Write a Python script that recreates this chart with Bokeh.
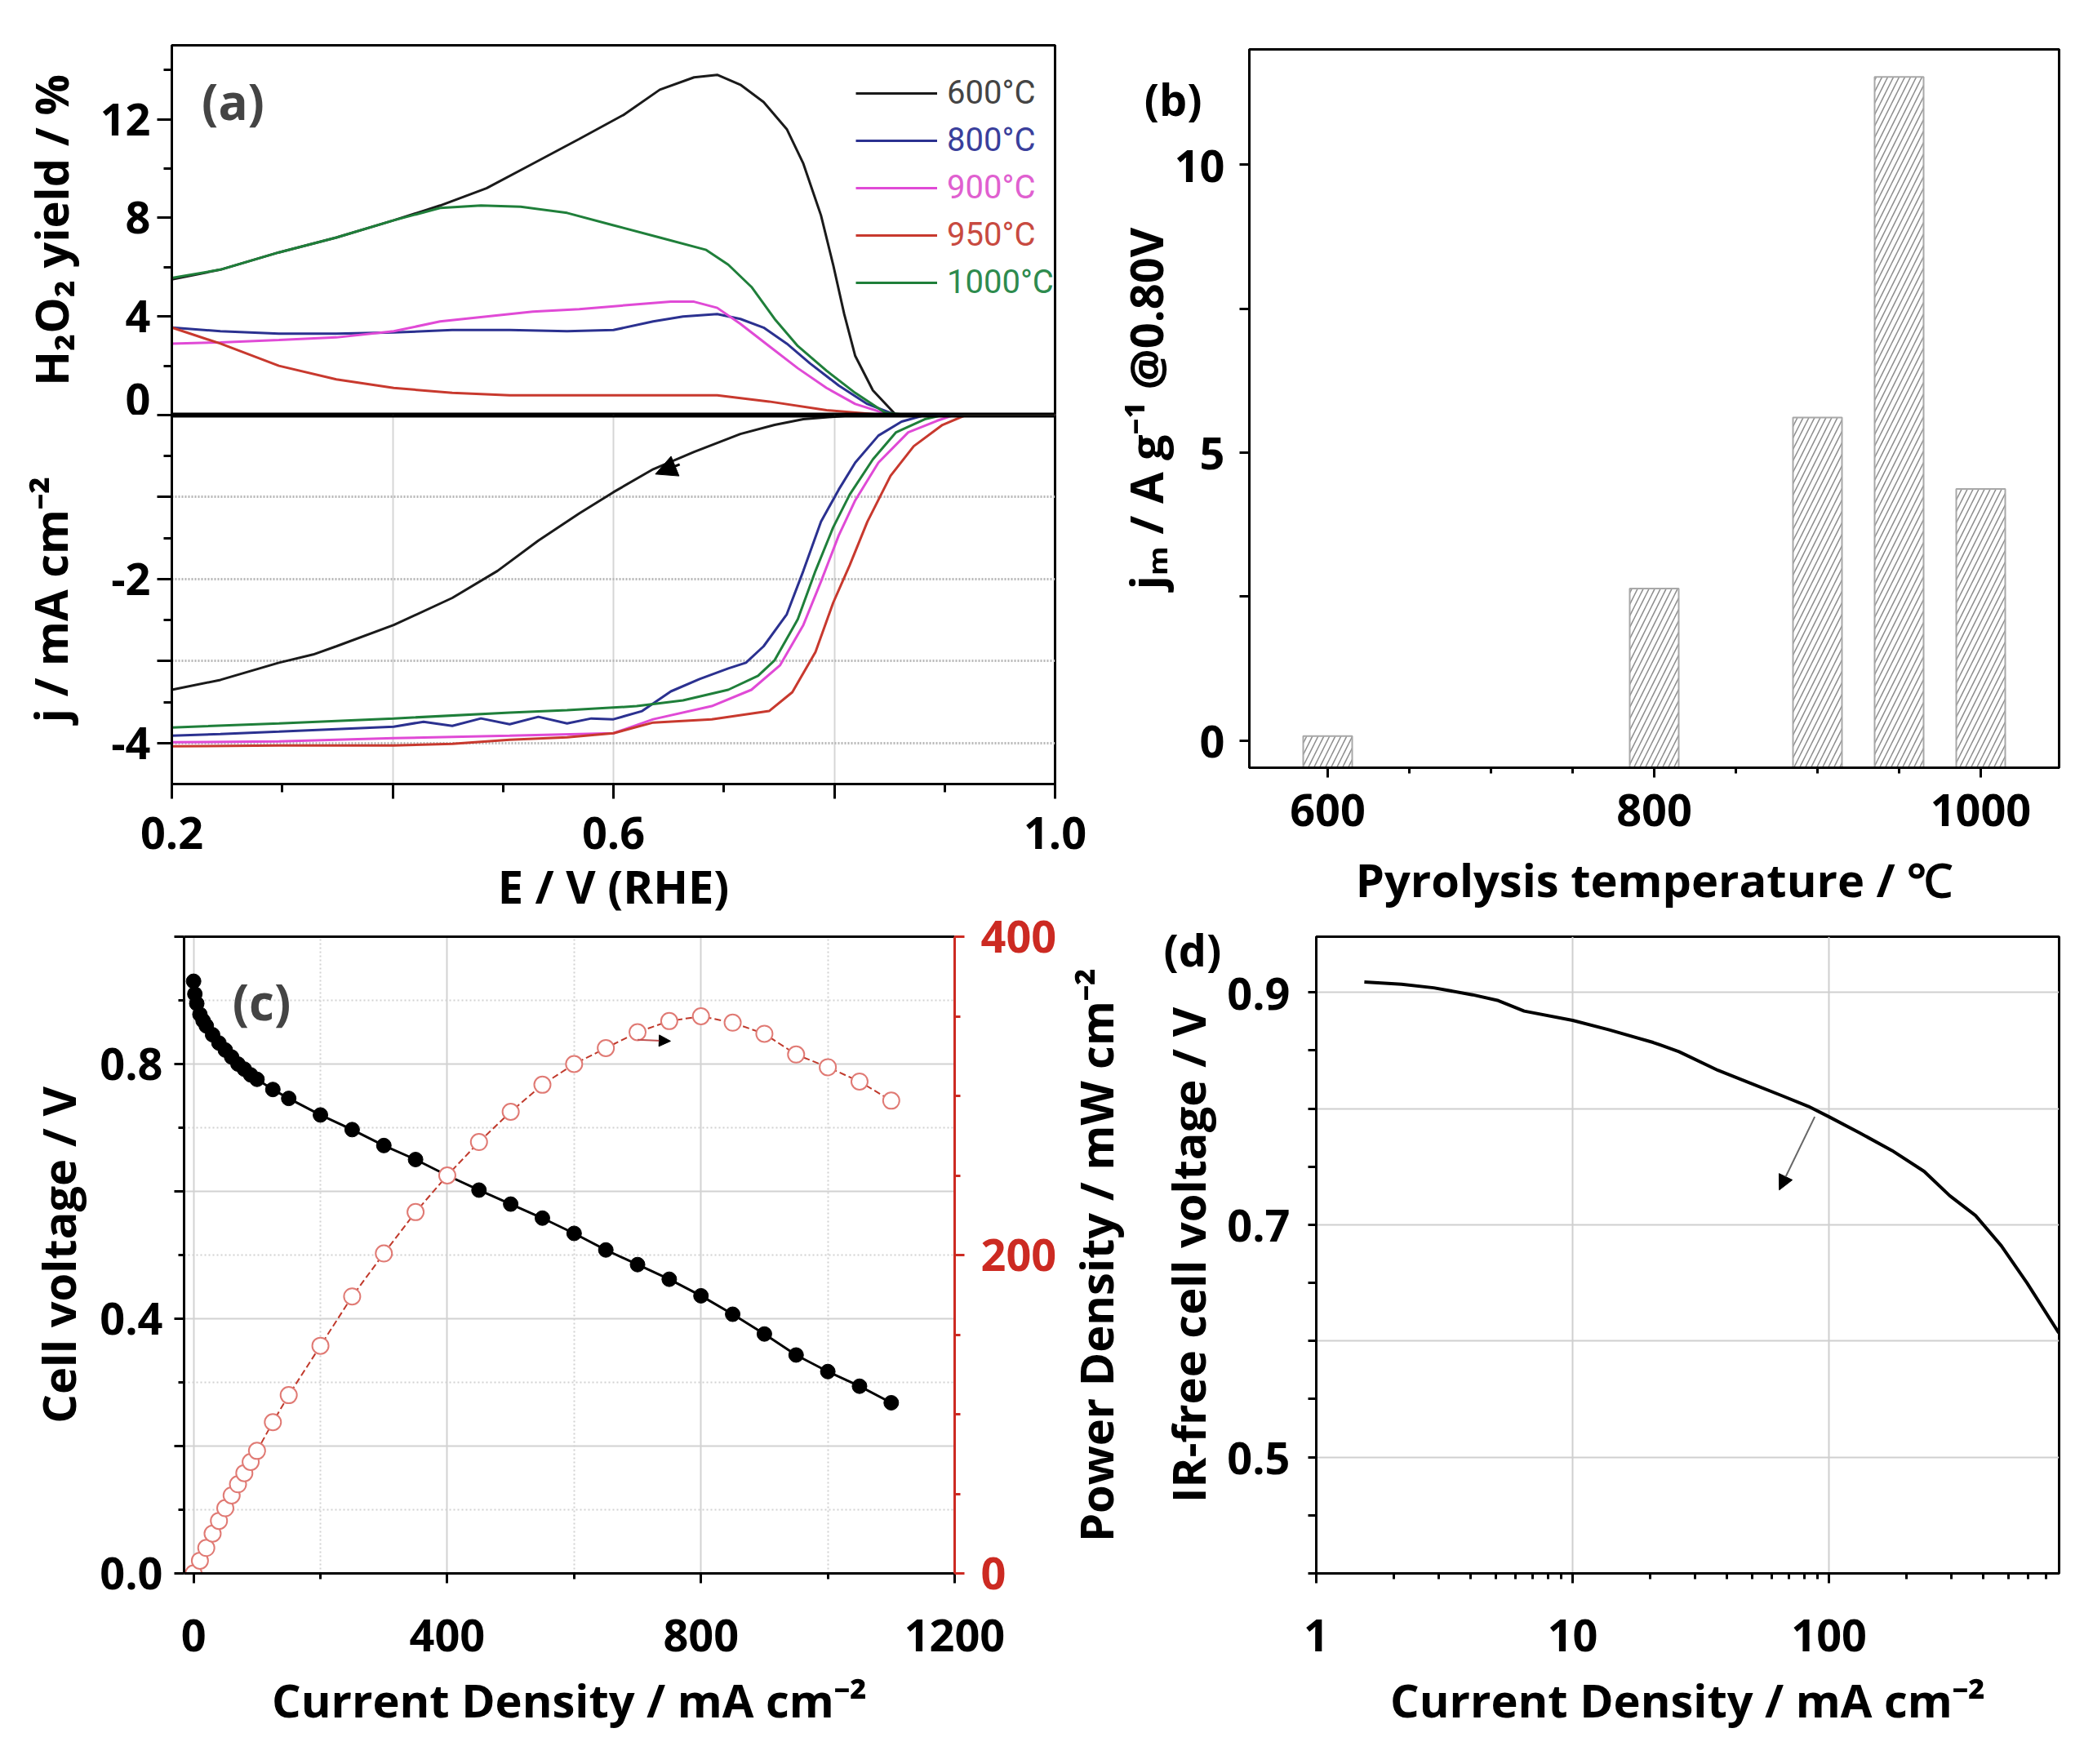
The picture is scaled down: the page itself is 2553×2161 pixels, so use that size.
from bokeh.embed import file_html
from bokeh.layouts import column, row
from bokeh.models import (Arrow, FixedTicker, Label, Legend, LegendItem,
                          LinearAxis, NormalHead, NumeralTickFormatter,
                          Range1d, Span)
from bokeh.plotting import figure
from bokeh.resources import INLINE

# ---------------- data ----------------
# (a) upper: H2O2 yield (%) vs E (V)
E_600_h = [0.200, 0.244, 0.297, 0.349, 0.401, 0.443, 0.485, 0.527, 0.569, 0.610, 0.642, 0.673,
           0.694, 0.715, 0.736, 0.757, 0.772, 0.788, 0.799, 0.809, 0.819, 0.835, 0.856, 0.900, 1.000]
Y_600_h = [5.5, 5.9, 6.6, 7.2, 7.9, 8.5, 9.2, 10.2, 11.2, 12.2, 13.2, 13.7,
           13.8, 13.4, 12.7, 11.6, 10.2, 8.1, 6.1, 4.1, 2.4, 1.0, 0.0, 0.0, 0.0]
E_800_h = [0.200, 0.244, 0.297, 0.349, 0.401, 0.454, 0.506, 0.558, 0.600, 0.636, 0.663,
           0.694, 0.715, 0.736, 0.757, 0.778, 0.804, 0.830, 0.856, 0.900, 1.000]
Y_800_h = [3.55, 3.4, 3.3, 3.3, 3.35, 3.45, 3.45, 3.4, 3.45, 3.8, 4.0,
           4.1, 3.9, 3.55, 2.9, 2.1, 1.2, 0.45, 0.0, 0.0, 0.0]
E_900_h = [0.200, 0.244, 0.297, 0.349, 0.401, 0.443, 0.485, 0.527, 0.569, 0.610, 0.652,
           0.673, 0.694, 0.715, 0.741, 0.767, 0.793, 0.819, 0.851, 0.900, 1.000]
Y_900_h = [2.9, 2.95, 3.05, 3.15, 3.4, 3.8, 4.0, 4.2, 4.3, 4.45, 4.6,
           4.6, 4.35, 3.7, 2.8, 1.9, 1.1, 0.45, 0.0, 0.0, 0.0]
E_950_h = [0.200, 0.244, 0.297, 0.349, 0.401, 0.454, 0.506, 0.558, 0.610, 0.663, 0.694,
           0.741, 0.793, 0.846, 0.900, 1.000]
Y_950_h = [3.55, 2.9, 2.0, 1.45, 1.1, 0.9, 0.8, 0.8, 0.8, 0.8, 0.8,
           0.55, 0.2, 0.0, 0.0, 0.0]
E_1000_h = [0.200, 0.244, 0.297, 0.349, 0.401, 0.443, 0.480, 0.516, 0.558, 0.600, 0.642,
            0.684, 0.704, 0.725, 0.746, 0.767, 0.793, 0.819, 0.846, 0.867, 0.900, 1.000]
Y_1000_h = [5.56, 5.9, 6.6, 7.2, 7.9, 8.4, 8.5, 8.45, 8.2, 7.7, 7.2,
            6.7, 6.1, 5.2, 3.9, 2.8, 1.8, 0.9, 0.1, 0.0, 0.0, 0.0]

# (a) lower: current density j (mA cm-2) vs E (V)
E_600_j = [0.200, 0.244, 0.297, 0.328, 0.349, 0.401, 0.454, 0.495, 0.532, 0.569, 0.600,
           0.636, 0.673, 0.715, 0.746, 0.772, 0.819, 0.900, 1.000]
J_600 = [-3.35, -3.23, -3.02, -2.92, -2.82, -2.56, -2.23, -1.9, -1.53, -1.2, -0.94,
         -0.66, -0.45, -0.23, -0.12, -0.05, 0.0, 0.0, 0.0]
E_800_j = [0.200, 0.244, 0.297, 0.349, 0.401, 0.428, 0.454, 0.480, 0.506, 0.532, 0.558,
           0.580, 0.600, 0.626, 0.652, 0.678, 0.704, 0.720, 0.736, 0.757, 0.772, 0.788,
           0.804, 0.819, 0.840, 0.861, 0.882, 0.950, 1.000]
J_800 = [-3.91, -3.89, -3.86, -3.83, -3.8, -3.74, -3.79, -3.7, -3.77, -3.68, -3.76,
         -3.7, -3.71, -3.61, -3.37, -3.22, -3.09, -3.02, -2.82, -2.43, -1.9, -1.3,
         -0.91, -0.58, -0.25, -0.08, 0.0, 0.0, 0.0]
E_900_j = [0.200, 0.297, 0.401, 0.506, 0.600, 0.636, 0.689, 0.725, 0.751, 0.772, 0.788,
           0.804, 0.819, 0.840, 0.867, 0.893, 0.908, 0.950, 1.000]
J_900 = [-3.99, -3.98, -3.94, -3.91, -3.88, -3.71, -3.55, -3.35, -3.05, -2.56, -2.03,
         -1.47, -1.04, -0.58, -0.21, -0.07, 0.0, 0.0, 0.0]
E_950_j = [0.200, 0.297, 0.401, 0.454, 0.506, 0.558, 0.600, 0.636, 0.689, 0.741, 0.762,
           0.783, 0.799, 0.814, 0.830, 0.851, 0.872, 0.898, 0.919, 0.950, 1.000]
J_950 = [-4.04, -4.03, -4.03, -4.01, -3.96, -3.93, -3.88, -3.75, -3.71, -3.61, -3.38,
         -2.89, -2.29, -1.83, -1.3, -0.74, -0.38, -0.12, 0.0, 0.0, 0.0]
E_1000_j = [0.200, 0.297, 0.401, 0.506, 0.558, 0.621, 0.663, 0.704, 0.731, 0.746, 0.767,
            0.783, 0.799, 0.814, 0.835, 0.856, 0.882, 0.898, 0.950, 1.000]
J_1000 = [-3.81, -3.76, -3.7, -3.63, -3.6, -3.55, -3.48, -3.35, -3.18, -2.99, -2.49,
          -1.9, -1.37, -0.97, -0.54, -0.21, -0.05, 0.0, 0.0, 0.0]

A_LABELS = ["600°C", "800°C", "900°C", "950°C", "1000°C"]
A_COLORS = ["#1a1a1a", "#2b3190", "#e04ad6", "#c8392e", "#1f7f3a"]
A_TEXT_COLORS = ["#444444", "#3a3f9c", "#e060d0", "#c84a40", "#2e8b4e"]

# (b) mass activity at 0.80 V vs pyrolysis temperature
B_TEMP = [600, 800, 900, 950, 1000]
B_JM = [0.08, 2.64, 5.61, 11.52, 4.37]

# (c) polarisation and power density curves
C_I_V = [0, 2, 5, 10, 15, 20, 30, 40, 50, 60, 70, 80, 90, 100, 125, 150, 200, 250, 300,
         350, 400, 450, 500, 550, 600, 650, 700, 750, 800, 850, 900, 950, 1000, 1050, 1100]
C_V = [0.93, 0.91, 0.895, 0.878, 0.868, 0.86, 0.846, 0.833, 0.822, 0.811, 0.8, 0.792,
       0.783, 0.776, 0.76, 0.746, 0.72, 0.697, 0.672, 0.65, 0.625, 0.602, 0.58, 0.558,
       0.534, 0.508, 0.485, 0.462, 0.436, 0.407, 0.376, 0.343, 0.317, 0.294, 0.268]
C_I_P = [0, 10, 20, 30, 40, 50, 60, 70, 80, 90, 100, 125, 150, 200, 250, 300, 350, 400,
         450, 500, 550, 600, 650, 700, 750, 800, 850, 900, 950, 1000, 1050, 1100]
C_P = [0, 8, 16, 25, 33, 41, 49, 56, 63, 70, 77, 95, 112, 143, 174, 201, 227, 250,
       271, 290, 307, 320, 330, 340, 347, 350, 346, 339, 326, 318, 309, 297]

# (d) IR-free cell voltage vs current density (log)
D_I = [1.54, 2.15, 2.87, 4.07, 5.13, 6.47, 10, 13.8, 20.6, 26, 36.9, 49.3, 65.8, 83,
       100, 132, 176, 235, 296, 373, 470, 592, 788]
D_V = [0.909, 0.907, 0.904, 0.898, 0.893, 0.884, 0.876, 0.868, 0.857, 0.849, 0.833,
       0.822, 0.811, 0.802, 0.793, 0.779, 0.764, 0.746, 0.725, 0.708, 0.682, 0.65, 0.607]

FONT = "Open Sans"
TICK = "54px"
TITLE = "56px"
NB = "\u00a0"


def style_axis(ax, color="black", standoff=10, title_standoff=10, major=12, minor=7):
    ax.axis_line_color = color
    ax.axis_line_width = 3
    ax.major_tick_line_color = color
    ax.minor_tick_line_color = color
    ax.major_tick_line_width = 3
    ax.minor_tick_line_width = 3
    ax.major_tick_out = major
    ax.major_tick_in = 0
    ax.minor_tick_out = minor
    ax.minor_tick_in = 0
    ax.major_label_text_font = FONT
    ax.major_label_text_font_style = "bold"
    ax.major_label_text_font_size = TICK
    ax.major_label_text_color = color
    ax.major_label_standoff = standoff
    ax.axis_label_text_font = FONT
    ax.axis_label_text_font_style = "bold"
    ax.axis_label_text_font_size = TITLE
    ax.axis_label_text_color = "black"
    ax.axis_label_standoff = title_standoff


def tag(p, text, x, y, size="60px"):
    p.add_layout(Label(x=x, y=y, x_units="screen", y_units="screen", text=text,
                       text_align="center", text_baseline="middle",
                       text_font=FONT, text_font_style="bold", text_font_size=size))


def base(**kw):
    p = figure(output_backend="svg", toolbar_location=None, **kw)
    p.outline_line_color = "black"
    p.outline_line_width = 3
    p.xgrid.visible = False
    p.ygrid.visible = False
    return p


# ---------------- (a) upper: H2O2 yield ----------------
pa1 = base(width=1340, height=508, x_range=(0.2, 1.0), y_range=(0, 15),
           min_border_left=210, min_border_right=48, min_border_top=55, min_border_bottom=0)
pa1.xaxis.visible = False
legend_rs = []
for ex, ey, col in zip([E_600_h, E_800_h, E_900_h, E_950_h, E_1000_h],
                       [Y_600_h, Y_800_h, Y_900_h, Y_950_h, Y_1000_h], A_COLORS):
    legend_rs.append(pa1.line(ex, ey, line_color=col, line_width=3))
pa1.add_layout(Span(location=0, dimension="width", line_color="black", line_width=6))
pa1.yaxis.ticker = FixedTicker(ticks=[0, 4, 8, 12], minor_ticks=[2, 6, 10, 14])
pa1.yaxis.axis_label = "H₂O₂ yield / %"
style_axis(pa1.yaxis[0], standoff=8, title_standoff=20, major=18, minor=10)

for i, (r, lab, tcol) in enumerate(zip(legend_rs, A_LABELS, A_TEXT_COLORS)):
    pa1.add_layout(Legend(items=[LegendItem(label=lab, renderers=[r])],
                          location=(838, 371 - 58 * i), border_line_color=None,
                          background_fill_alpha=0, padding=0, margin=0, spacing=0,
                          glyph_width=100, glyph_height=42, label_height=42,
                          label_standoff=12, label_text_font="Roboto",
                          label_text_font_size="40px", label_text_color=tcol,
                          label_text_baseline="middle"))
tag(pa1, "(a)", 75, 385)

# ---------------- (a) lower: current density ----------------
pa2 = base(width=1340, height=617, x_range=(0.2, 1.0), y_range=(-4.5, 0),
           min_border_left=210, min_border_right=48, min_border_top=0, min_border_bottom=163)
pa2.xgrid.visible = True
pa2.ygrid.visible = True
pa2.xgrid.ticker = FixedTicker(ticks=[0.4, 0.6, 0.8])
pa2.xgrid.grid_line_color = "#d6d6d6"
pa2.xgrid.grid_line_width = 2
pa2.ygrid.ticker = FixedTicker(ticks=[-1, -2, -3, -4])
pa2.ygrid.grid_line_color = "#b8b8b8"
pa2.ygrid.grid_line_width = 3
pa2.ygrid.grid_line_dash = "2 2"

for ex, ey, col in zip([E_600_j, E_800_j, E_900_j, E_950_j, E_1000_j],
                       [J_600, J_800, J_900, J_950, J_1000], A_COLORS):
    pa2.line(ex, ey, line_color=col, line_width=3)
pa2.add_layout(Span(location=0, dimension="width", line_color="black", line_width=6))
pa2.add_layout(Arrow(end=NormalHead(size=26, fill_color="black", line_color="black"),
                     x_start=0.66, y_start=-0.6, x_end=0.638, y_end=-0.72,
                     line_color="black", line_width=3))

pa2.xaxis.ticker = FixedTicker(ticks=[0.2, 0.4, 0.6, 0.8, 1.0], minor_ticks=[0.3, 0.5, 0.7, 0.9])
pa2.xaxis.major_label_overrides = {0.2: "0.2", 0.4: "", 0.6: "0.6", 0.8: "", 1.0: "1.0"}
pa2.xaxis.axis_label = "E / V (RHE)"
style_axis(pa2.xaxis[0], standoff=22, title_standoff=4, major=18, minor=10)
pa2.yaxis.ticker = FixedTicker(ticks=[-4, -3, -2, -1, 0], minor_ticks=[-3.5, -2.5, -1.5, -0.5])
# the shared "0" is written once, by the upper half
pa2.yaxis.major_label_overrides = {-4: "-4", -3: "", -2: "-2", -1: "", 0: ""}
pa2.yaxis.axis_label = "j / mA cm⁻²"
style_axis(pa2.yaxis[0], standoff=8, title_standoff=34, major=18, minor=10)

# ---------------- (b) ----------------
B_Y = (-0.47, 12.0)
B_TAG_Y = 11.14
pb = base(width=1205, height=1125, x_range=(552, 1048), y_range=B_Y,
          min_border_left=190, min_border_right=23, min_border_top=60, min_border_bottom=185)
pb.vbar(x=B_TEMP, top=B_JM, bottom=B_Y[0], width=30, fill_color="white",
        line_color="#a8a8a8", line_width=2, hatch_pattern="/", hatch_color="#8c8c8c",
        hatch_scale=14, hatch_weight=1.5)
pb.xaxis.ticker = FixedTicker(ticks=[600, 800, 1000], minor_ticks=[650, 700, 750, 850, 900, 950])
pb.yaxis.ticker = FixedTicker(ticks=[0, 5, 10, B_TAG_Y], minor_ticks=[0, 2.5, 5, 7.5, 10])
pb.yaxis.major_label_overrides = {0: "0", 5: "5", 10: "10", B_TAG_Y: "(b)" + NB * 2}
pb.xaxis.axis_label = "Pyrolysis temperature / ℃"
pb.yaxis.axis_label = "jₘ / A g⁻¹ @0.80V"
style_axis(pb.xaxis[0], standoff=20, title_standoff=24)
style_axis(pb.yaxis[0], standoff=18, title_standoff=-42)
pb.yaxis.major_tick_out = 0
pb.yaxis.minor_tick_out = 12

# ---------------- (c) ----------------
pc = base(width=1300, height=1034, x_range=(-15, 1200), y_range=(0, 1.0),
          min_border_left=225, min_border_right=131, min_border_top=22, min_border_bottom=232)
pc.outline_line_color = None
pc.extra_y_ranges = {"pd": Range1d(0, 400)}
pc.xgrid.visible = True
pc.ygrid.visible = True
for g in (pc.xgrid, pc.ygrid):
    g.grid_line_color = "#d2d2d2"
    g.grid_line_width = 2
    g.minor_grid_line_color = "#d2d2d2"
    g.minor_grid_line_width = 2
    g.minor_grid_line_dash = "2 3"

pc.xaxis.ticker = FixedTicker(ticks=[0, 400, 800, 1200], minor_ticks=[200, 600, 1000])
pc.yaxis.ticker = FixedTicker(ticks=[0.0, 0.2, 0.4, 0.6, 0.8, 1.0],
                              minor_ticks=[0.1, 0.3, 0.5, 0.7, 0.9])
pc.yaxis.major_label_overrides = {0.0: "0.0", 0.2: "", 0.4: "0.4", 0.6: "", 0.8: "0.8", 1.0: ""}
pc.xaxis.axis_label = "Current Density / mA cm⁻²"
pc.yaxis.axis_label = "Cell voltage / V"
style_axis(pc.xaxis[0], standoff=44, title_standoff=18)
style_axis(pc.yaxis[0], standoff=14, title_standoff=10)

red = "#cc2a22"
pax = LinearAxis(y_range_name="pd",
                 ticker=FixedTicker(ticks=[0, 200, 400], minor_ticks=[50, 100, 150, 250, 300, 350]))
style_axis(pax, color=red, standoff=20)
pc.add_layout(pax, "right")

top = LinearAxis(ticker=FixedTicker(ticks=[]), major_tick_out=0, minor_tick_out=0,
                 axis_line_width=3, axis_line_color="black")
pc.add_layout(top, "above")

pc.line(C_I_V, C_V, line_color="black", line_width=3)
pc.scatter(C_I_V, C_V, size=18, fill_color="black", line_color="black")
pc.line(C_I_P, C_P, y_range_name="pd", line_color="#c0392b", line_width=2, line_dash="8 4")
pc.scatter(C_I_P, C_P, y_range_name="pd", size=20, fill_color="white",
           line_color="#e07a74", line_width=2)
pc.add_layout(Arrow(end=NormalHead(size=14, fill_color="black", line_color="black"),
                    x_start=700, y_start=0.838, x_end=752, y_end=0.836,
                    line_color="#c05050", line_width=2))
tag(pc, "(c)", 95, 701)

# ---------------- (d) ----------------
D_TAG_Y = 0.945
pd_ = base(width=1245, height=1034, x_axis_type="log", x_range=(1, 790), y_range=(0.40, 0.948),
           min_border_left=302, min_border_right=23, min_border_top=22, min_border_bottom=232)
pd_.xgrid.visible = True
pd_.ygrid.visible = True
pd_.xgrid.grid_line_color = "#cfcfcf"
pd_.ygrid.grid_line_color = "#cfcfcf"
pd_.xgrid.grid_line_width = 2
pd_.ygrid.grid_line_width = 2
pd_.ygrid.ticker = FixedTicker(ticks=[0.5, 0.6, 0.7, 0.8, 0.9])

minor_log = [2, 3, 4, 5, 6, 7, 8, 9, 20, 30, 40, 50, 60, 70, 80, 90,
             200, 300, 400, 500, 600, 700]
pd_.xaxis.ticker = FixedTicker(ticks=[1, 10, 100], minor_ticks=minor_log)
pd_.xaxis.formatter = NumeralTickFormatter(format="0")
pd_.yaxis.ticker = FixedTicker(ticks=[0.5, 0.7, 0.9, D_TAG_Y],
                               minor_ticks=[0.4, 0.45, 0.5, 0.55, 0.6, 0.65, 0.7, 0.75,
                                            0.8, 0.85, 0.9])
pd_.yaxis.major_label_overrides = {0.5: "0.5", 0.7: "0.7", 0.9: "0.9", D_TAG_Y: "(d)" + NB * 6}
pd_.xaxis.axis_label = "Current Density / mA cm⁻²"
pd_.yaxis.axis_label = "IR-free cell voltage / V"
style_axis(pd_.xaxis[0], standoff=44, title_standoff=18)
style_axis(pd_.yaxis[0], standoff=22, title_standoff=-70)
pd_.yaxis.major_tick_out = 0
pd_.yaxis.minor_tick_out = 10

# title of the red power-density axis of (c); it sits left of (d)'s own axis
ptitle = LinearAxis(ticker=FixedTicker(ticks=[]), axis_line_color=None,
                    major_tick_out=0, minor_tick_out=0, major_label_standoff=0,
                    axis_label="Power Density / mW cm⁻²", axis_label_standoff=34,
                    axis_label_text_font=FONT, axis_label_text_font_style="bold",
                    axis_label_text_font_size=TITLE, axis_label_text_color="black")
pd_.add_layout(ptitle, "left")

pd_.line(D_I, D_V, line_color="black", line_width=4)
pd_.add_layout(Arrow(end=NormalHead(size=18, fill_color="black", line_color="black"),
                     x_start=88, y_start=0.793, x_end=64, y_end=0.73,
                     line_color="#666666", line_width=2))

layout = column(row(column(pa1, pa2), pb), row(pc, pd_))
open("out.html", "w").write(file_html(layout, INLINE))
